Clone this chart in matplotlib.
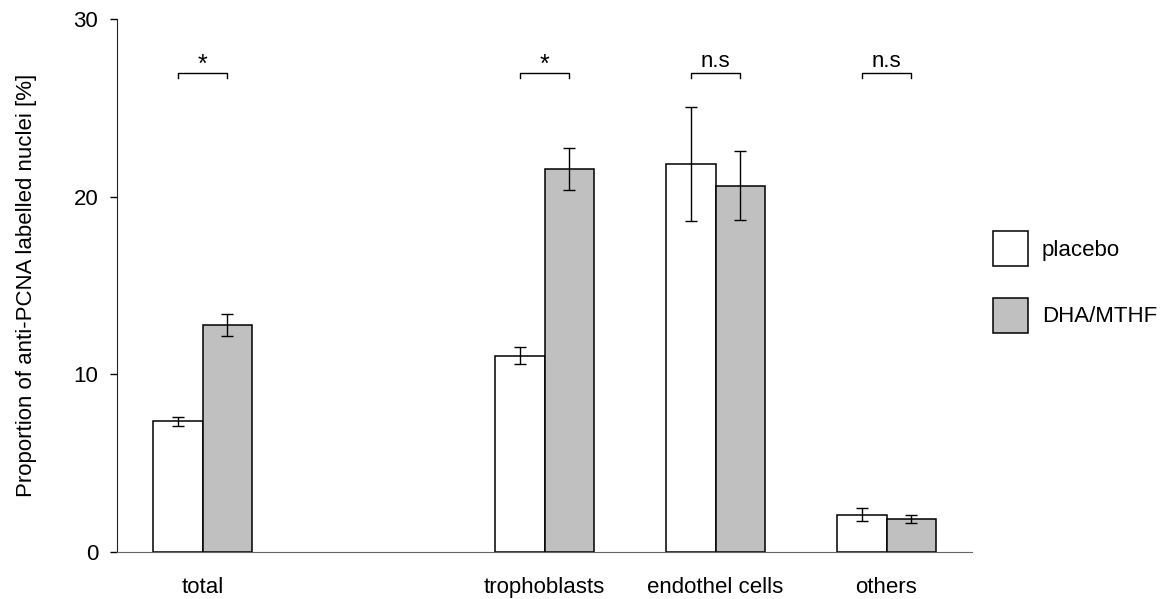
import matplotlib.pyplot as plt
import numpy as np

plt.rcParams['font.family'] = ['Liberation Sans', 'DejaVu Sans']

# --- data ---
categories = ['total', '', 'trophoblasts', 'endothel cells', 'others']
placebo = [7.35, np.nan, 11.05, 21.85, 2.1]
placebo_err = [0.27, np.nan, 0.48, 3.22, 0.36]
dha = [12.78, np.nan, 21.56, 20.62, 1.85]
dha_err = [0.6, np.nan, 1.18, 1.95, 0.24]
series_names = ['placebo', 'DHA/MTHF']
sig_labels = ['*', None, '*', 'n.s', 'n.s']

x = np.arange(len(categories))
w = 0.287
fs = 16

fig = plt.figure(figsize=(11.61, 5.99), dpi=100)
ax = fig.add_axes([117 / 1161, 47 / 599, 855 / 1161, 533 / 599])

err_kw = dict(ecolor='black', elinewidth=1.0, capsize=4, capthick=1.0)
ax.bar(x - w / 2, placebo, w, yerr=placebo_err, color='white',
       edgecolor='black', linewidth=1.1, error_kw=err_kw, label=series_names[0])
ax.bar(x + w / 2, dha, w, yerr=dha_err, color='#c0c0c0',
       edgecolor='black', linewidth=1.1, error_kw=err_kw, label=series_names[1])

# significance brackets
for xi, lab in zip(x, sig_labels):
    if lab is None:
        continue
    x0, x1 = xi - w / 2, xi + w / 2
    ax.plot([x0, x0, x1, x1], [26.68, 26.95, 26.95, 26.68], color='black', lw=1.0)
    if lab == '*':
        ax.text(xi, 27.0, lab, ha='center', va='baseline', fontsize=18)
    else:
        ax.text(xi, 27.3, lab, ha='center', va='baseline', fontsize=fs)

ax.set_xlim(-0.5, len(categories) - 0.5)
ax.set_ylim(0, 30)
ax.set_yticks([0, 10, 20, 30])
ax.set_xticks(x)
ax.set_xticklabels(categories)
ax.tick_params(axis='x', length=0, pad=18, labelsize=fs)
ax.tick_params(axis='y', length=5, width=1.0, pad=8.5, labelsize=fs)
ax.spines['top'].set_visible(False)
ax.spines['right'].set_visible(False)
ax.spines['left'].set_color('#222222')
ax.spines['bottom'].set_color('#666666')
ax.set_ylabel('Proportion of anti-PCNA labelled nuclei [%]', fontsize=fs)
ax.yaxis.set_label_coords(-0.093, 0.5)

fig.legend(loc='upper left', bbox_to_anchor=(993 / 1161, (599 - 231) / 599),
           frameon=False, fontsize=fs, handlelength=1.575, handleheight=2.05,
           labelspacing=1.43, handletextpad=0.63, borderpad=0, borderaxespad=0)

fig.savefig('out.png', dpi=100)
